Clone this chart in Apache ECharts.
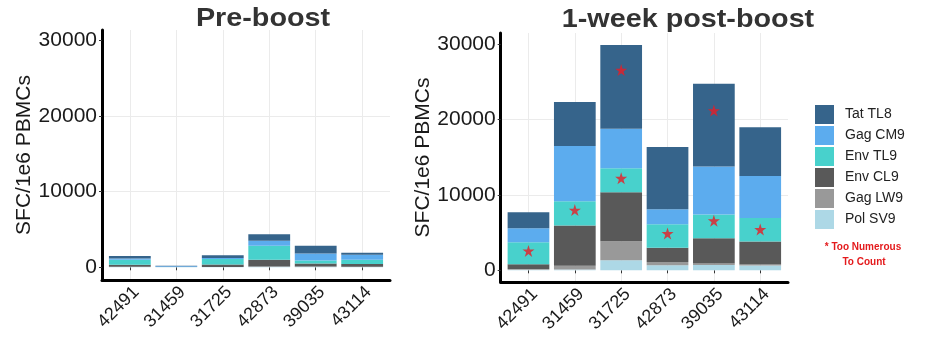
<!DOCTYPE html>
<html>
<head>
<meta charset="utf-8">
<script src="https://cdn.jsdelivr.net/npm/echarts@6/dist/echarts.min.js"></script>
<style>
html,body{margin:0;padding:0;background:#fff;}
#chart{width:933px;height:342px;}
</style>
</head>
<body>
<div id="chart"></div>
<script>
// ---------- data ----------
const categories = ['42491', '31459', '31725', '42873', '39035', '43114'];
// stacking order bottom -> top
const seriesNames = ['Pol SV9', 'Gag LW9', 'Env CL9', 'Env TL9', 'Gag CM9', 'Tat TL8'];
const legendOrder = ['Tat TL8', 'Gag CM9', 'Env TL9', 'Env CL9', 'Gag LW9', 'Pol SV9'];

// Pre-boost (SFC / 1e6 PBMCs)
const prePolSV9 = [30, 40, 30, 60, 60, 50];
const preGagLW9 = [30, 0, 0, 40, 30, 20];
const preEnvCL9 = [260, 0, 350, 900, 400, 350];
const preEnvTL9 = [660, 0, 700, 1850, 400, 570];
const preGagCM9 = [180, 100, 150, 650, 920, 660];
const preTatTL8 = [330, 60, 350, 850, 1050, 260];

// 1-week post-boost
const postPolSV9 = [80, 100, 1330, 670, 700, 650];
const postGagLW9 = [90, 500, 2540, 440, 190, 110];
const postEnvCL9 = [630, 5340, 6490, 1870, 3380, 3060];
const postEnvTL9 = [2910, 3240, 3200, 3150, 3150, 3110];
const postGagCM9 = [1860, 7330, 5240, 1960, 6360, 5600];
const postTatTL8 = [2130, 5830, 11100, 8270, 10980, 6450];

// "Too Numerous To Count" markers (post-boost)
const starCategories = ['42491', '31459', '31725', '31725', '42873', '39035', '39035', '43114'];
const starValues = [2580, 8000, 26580, 12220, 4890, 21200, 6580, 5420];

const yTicks = [0, 10000, 20000, 30000];

const titles = ['Pre-boost', '1-week post-boost'];
const yTitle = 'SFC/1e6 PBMCs';
const noteLines = ['* Too Numerous', 'To Count'];

// ---------- styling ----------
const colors = {
  'Tat TL8': '#36648B',
  'Gag CM9': '#5CACEE',
  'Env TL9': '#48D1CC',
  'Env CL9': '#595959',
  'Gag LW9': '#999999',
  'Pol SV9': '#ADD8E6'
};
const FONT = '"Liberation Sans", Arial, Helvetica, sans-serif';
const STAR_PATH = 'path://M0,-5L1.117,-1.537L4.755,-1.545L1.807,0.587L2.939,4.045L0,1.9L-2.939,4.045L-1.807,0.587L-4.755,-1.545L-1.117,-1.537Z';
const preData = [prePolSV9, preGagLW9, preEnvCL9, preEnvTL9, preGagCM9, preTatTL8];
const postData = [postPolSV9, postGagLW9, postEnvCL9, postEnvTL9, postGagCM9, postTatTL8];

const panels = [
  {frame: {left: 102, right: 543, top: 30, bottom: 62}, data: {left: 106.6, right: 547.6, top: 30, bottom: 62}, min: -1680, max: 31360, values: preData, stack: 'pre'},
  {frame: {left: 500.7, right: 145, top: 33, bottom: 60}, data: {left: 505.3, right: 149.6, top: 33, bottom: 60}, min: -1550, max: 31500, values: postData, stack: 'post'}
];

const grid = [], xAxis = [], yAxis = [], series = [];
panels.forEach((p, pi) => {
  const fi = grid.length;
  grid.push(p.frame);
  grid.push(p.data);
  const di = fi + 1;
  // frame axes (thick axis lines + grid lines)
  xAxis.push({
    gridIndex: fi, type: 'value', min: -0.6, max: 5.6, splitNumber: 6,
    axisLine: {show: true, onZero: false, lineStyle: {color: '#000', width: 3}},
    axisTick: {show: false}, axisLabel: {show: false},
    splitLine: {show: true, showMinLine: false, showMaxLine: false, lineStyle: {color: '#ebebeb', width: 1}}
  });
  yAxis.push({
    gridIndex: fi, type: 'value', min: p.min, max: p.max, splitNumber: 3,
    axisLine: {show: true, onZero: false, lineStyle: {color: '#000', width: 3}},
    axisTick: {show: true, length: 3, customValues: yTicks, lineStyle: {color: '#333', width: 1}},
    axisLabel: {fontSize: 21, color: '#1a1a1a', margin: 5, fontFamily: FONT, customValues: yTicks,
                formatter: v => String(v)},
    splitLine: {show: true, showMinLine: false, showMaxLine: false, lineStyle: {color: '#ebebeb', width: 1}},
    name: yTitle, nameLocation: 'middle', nameGap: 57,
    nameTextStyle: {fontSize: 21, color: '#1a1a1a', fontFamily: FONT}
  });
  // data axes
  xAxis.push({
    gridIndex: di, type: 'category', data: categories,
    axisLine: {show: false},
    axisTick: {show: true, alignWithLabel: true, length: 3, lineStyle: {color: '#333'}},
    axisLabel: {rotate: 45, interval: 0, fontSize: 18, color: '#1a1a1a', margin: 3,
                verticalAlign: 'top', fontFamily: FONT},
    splitLine: {show: false}
  });
  yAxis.push({gridIndex: di, type: 'value', min: p.min, max: p.max, show: false, splitLine: {show: false}});
  seriesNames.forEach((name, si) => {
    series.push({
      name: name, type: 'bar', stack: p.stack, xAxisIndex: di, yAxisIndex: di,
      barWidth: '90%', data: p.values[si],
      itemStyle: {color: colors[name]}
    });
  });
});

series.push({
  name: 'TNTC', type: 'scatter', xAxisIndex: 3, yAxisIndex: 3,
  data: starCategories.map((c, i) => [c, starValues[i]]),
  symbol: STAR_PATH, symbolSize: 12, itemStyle: {color: '#ea1c24'},
  z: 10, silent: true
});

const option = {
  animation: false,
  backgroundColor: '#fff',
  textStyle: {fontFamily: FONT},
  grid: grid, xAxis: xAxis, yAxis: yAxis, series: series,
  legend: {
    data: legendOrder, orient: 'vertical', left: 810, top: 100,
    itemWidth: 19, itemHeight: 19, itemGap: 2, icon: 'rect',
    textStyle: {fontSize: 14, color: '#222', fontFamily: FONT, padding: [0, 0, 0, 6]}
  },
  graphic: [
    {type: 'text', x: 263, y: 19.5, scaleX: 1.15, style: {text: titles[0], font: 'bold 25px ' + FONT, fill: '#333', textAlign: 'center', textVerticalAlign: 'middle'}},
    {type: 'text', x: 688, y: 20.5, scaleX: 1.15, style: {text: titles[1], font: 'bold 25px ' + FONT, fill: '#333', textAlign: 'center', textVerticalAlign: 'middle'}},
    {type: 'text', x: 863, y: 247, style: {text: noteLines[0], font: 'bold 10px ' + FONT, fill: '#e41a1c', textAlign: 'center', textVerticalAlign: 'middle'}},
    {type: 'text', x: 864, y: 262, style: {text: noteLines[1], font: 'bold 10px ' + FONT, fill: '#e41a1c', textAlign: 'center', textVerticalAlign: 'middle'}}
  ]
};

const chart = echarts.init(document.getElementById('chart'), null, {renderer: 'canvas'});
chart.setOption(option);
</script>
</body>
</html>
